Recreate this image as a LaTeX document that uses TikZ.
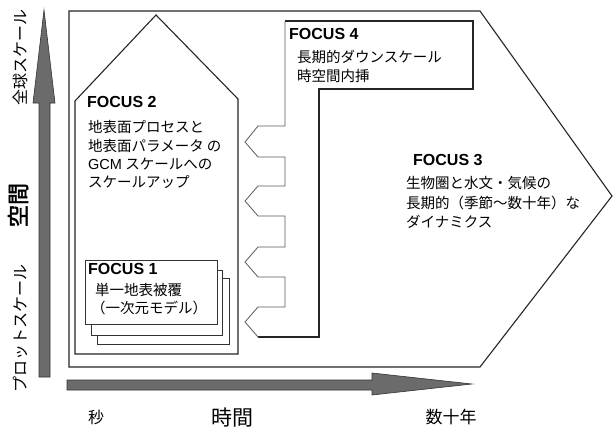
\documentclass[tikz,border=0pt]{standalone}
\usepackage{fontspec}
\setmainfont{Liberation Sans}
\newfontfamily\jp{Noto Sans CJK JP}
\newfontfamily\jpb[FakeBold=2]{Noto Sans CJK JP}
\begin{document}
\begin{tikzpicture}[x=1pt,y=-1pt,
  outline/.style={draw=black!85, line width=1.1pt, line join=miter},
  thinline/.style={draw=black!65, line width=0.8pt},
  boxline/.style={draw=black!80, line width=0.8pt, fill=white},
  axisarrow/.style={fill=black!58, draw=black!80, line width=0.6pt},
  focuslbl/.style={anchor=west, inner sep=0pt, font=\fontsize{16}{18}\selectfont\bfseries},
  jtext/.style={anchor=west, inner sep=0pt, font=\jp\fontsize{14.5}{17}\selectfont},
  axlbl/.style={inner sep=0pt},
]
\useasboundingbox (0,0) rectangle (614,431);
\fill[white] (0,0) rectangle (614,431);

% FOCUS 3 outer shape
\draw[outline] (69,11) -- (480,11) -- (612,196) -- (480,367) -- (69,367) -- cycle;

% FOCUS 2 house
\draw[outline] (75,354) -- (75,101) -- (156,15) -- (238,99) -- (238,354) -- cycle;

% FOCUS 4 box and inner boundary
\draw[outline] (285,21) -- (473,21) -- (473,89) -- (319,89) -- (319,337) -- (258,337);
\draw[thinline] (258,337) -- (245,322) -- (258,307) -- (285,307) -- (285,277)
  -- (258,277) -- (245,262) -- (258,247) -- (285,247) -- (285,216)
  -- (258,216) -- (245,201) -- (258,186) -- (285,186) -- (285,157)
  -- (258,157) -- (245,142) -- (258,126) -- (285,126) -- (285,21);

% FOCUS 1 stacked boxes
\draw[boxline] (97,278) rectangle (229,344);
\draw[boxline] (91,270) rectangle (222,335);
\draw[boxline] (85,260) rectangle (217,324);

% axes arrows
\draw[axisarrow] (39,377) -- (39,103) -- (33,103) -- (44,10) -- (55,103) -- (50,103) -- (50,377) -- cycle;
\draw[axisarrow] (67,380) -- (372,380) -- (372,373) -- (472,384) -- (372,395) -- (372,390) -- (67,390) -- cycle;

% FOCUS 2 texts
\node[focuslbl] (f2) at (87,102) {FOCUS 2};
\node[jtext] (f2a) at (88,127) {地表面プロセスと};
\node[jtext] (f2b) at (88,145.5) {地表面パラメータ の};
\node[jtext] (f2c) at (88,164) {{\normalfont GCM} スケールへの};
\node[jtext] (f2d) at (88,182) {スケールアップ};

% FOCUS 4 texts
\node[focuslbl] (f4) at (289,33.5) {FOCUS 4};
\node[jtext] (f4a) at (297,57) {長期的ダウンスケール};
\node[jtext] (f4b) at (297,75.5) {時空間内挿};

% FOCUS 3 texts
\node[focuslbl] (f3) at (413,160) {FOCUS 3};
\node[jtext] (f3a) at (406,183) {生物圏と水文・気候の};
\node[jtext] (f3b) at (406,202.5) {長期的（季節〜数十年）な};
\node[jtext] (f3c) at (406,222) {ダイナミクス};

% FOCUS 1 texts
\node[focuslbl] (f1) at (88,269) {FOCUS 1};
\node[jtext] (f1a) at (95,290) {単一地表被覆};
\node[jtext] (f1b) at (91,308) {（一次元モデル）};

% axis labels
\node[axlbl, font=\jp\fontsize{16}{18}\selectfont] (sec) at (96,417) {秒};
\node[axlbl, font=\jp\fontsize{21}{24}\selectfont] (time) at (232,418) {時間};
\node[axlbl, font=\jp\fontsize{17}{20}\selectfont] (dec) at (451,417) {数十年};
\node[axlbl, rotate=90, font=\jp\fontsize{16}{18}\selectfont] (glob) at (20,57) {全球スケール};
\node[axlbl, rotate=90, font=\jpb\fontsize{22}{24}\selectfont] (space) at (18,205) {空間};
\node[axlbl, rotate=90, font=\jp\fontsize{16}{18}\selectfont] (plot) at (20,328) {プロットスケール};
\end{tikzpicture}
\end{document}
